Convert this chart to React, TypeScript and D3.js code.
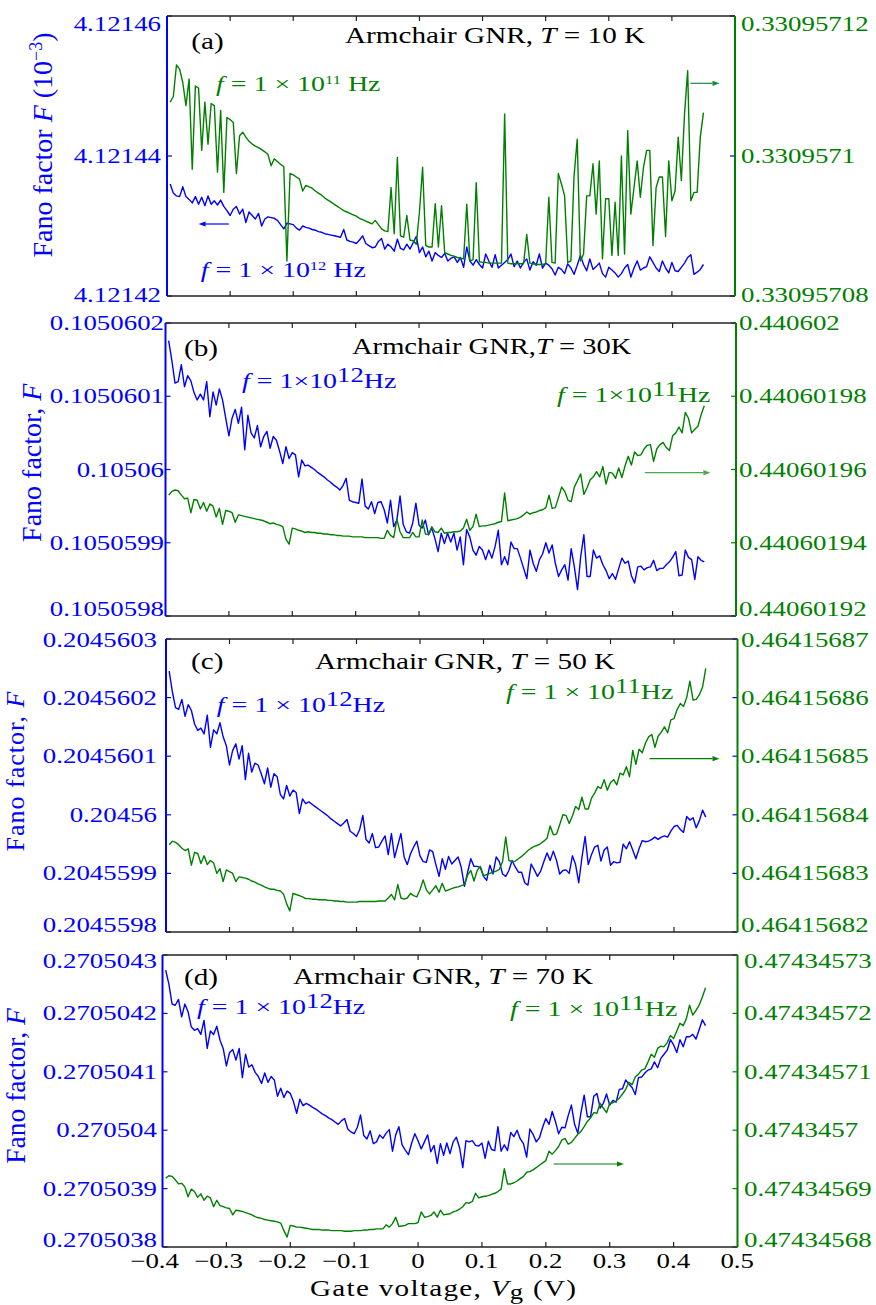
import React from 'react';
import * as d3 from 'd3';

// Gate voltage Vg (V)
const gateVoltage = [
  -0.395,-0.39,-0.385,-0.38,-0.375,-0.37,-0.365,-0.36,-0.355,-0.35,
  -0.345,-0.34,-0.335,-0.33,-0.325,-0.32,-0.315,-0.31,-0.305,-0.3,
  -0.295,-0.29,-0.285,-0.28,-0.275,-0.27,-0.265,-0.26,-0.255,-0.25,
  -0.245,-0.24,-0.235,-0.23,-0.225,-0.22,-0.215,-0.21,-0.205,-0.2,
  -0.195,-0.19,-0.185,-0.18,-0.175,-0.17,-0.165,-0.16,-0.155,-0.15,
  -0.145,-0.14,-0.135,-0.13,-0.125,-0.12,-0.115,-0.11,-0.105,-0.1,
  -0.095,-0.09,-0.085,-0.08,-0.075,-0.07,-0.065,-0.06,-0.055,-0.05,
  -0.045,-0.04,-0.035,-0.03,-0.025,-0.02,-0.015,-0.01,-0.005,0,
  0.005,0.01,0.015,0.02,0.025,0.03,0.035,0.04,0.045,0.05,
  0.055,0.06,0.065,0.07,0.075,0.08,0.085,0.09,0.095,0.1,
  0.105,0.11,0.115,0.12,0.125,0.13,0.135,0.14,0.145,0.15,
  0.155,0.16,0.165,0.17,0.175,0.18,0.185,0.19,0.195,0.2,
  0.205,0.21,0.215,0.22,0.225,0.23,0.235,0.24,0.245,0.25,
  0.255,0.26,0.265,0.27,0.275,0.28,0.285,0.29,0.295,0.3,
  0.305,0.31,0.315,0.32,0.325,0.33,0.335,0.34,0.345,0.35,
  0.355,0.36,0.365,0.37,0.375,0.38,0.385,0.39,0.395,0.4,
  0.405,0.41,0.415,0.42,0.425,0.43,0.435,0.44,0.445,0.45
];

// (a) T = 10 K, f = 1e12 Hz (left axis, units 1e-3)
const fanoA12 = [
  4.121436,4.1214347,4.1214343,4.1214342,4.1214356,4.1214342,4.1214338,4.1214333,4.1214342,4.1214331,
  4.1214341,4.1214329,4.1214343,4.1214331,4.1214336,4.121433,4.1214337,4.1214328,4.1214322,4.1214315,
  4.1214324,4.1214328,4.1214317,4.1214324,4.1214305,4.121432,4.1214315,4.121431,4.1214318,4.12143,
  4.121431,4.1214313,4.1214312,4.1214311,4.1214308,4.1214302,4.1214296,4.1214304,4.1214303,4.1214302,
  4.1214297,4.1214294,4.12143,4.1214298,4.1214297,4.1214295,4.1214294,4.1214292,4.1214291,4.1214289,
  4.1214288,4.1214287,4.1214286,4.1214285,4.1214284,4.1214295,4.121428,4.1214278,4.1214277,4.1214275,
  4.121428,4.1214286,4.1214275,4.1214272,4.1214269,4.121427,4.1214278,4.1214282,4.1214267,4.1214274,
  4.121427,4.1214264,4.1214281,4.1214268,4.1214266,4.1214274,4.1214267,4.1214276,4.1214285,4.1214262,
  4.121427,4.1214256,4.1214264,4.121425,4.1214262,4.1214258,4.1214255,4.1214261,4.121425,4.1214254,
  4.1214256,4.1214248,4.1214255,4.1214241,4.121427,4.121425,4.1214244,4.1214252,4.1214245,4.121424,
  4.121426,4.121425,4.1214241,4.1214259,4.121424,4.1214244,4.1214248,4.1214252,4.121426,4.1214242,
  4.121425,4.121424,4.1214248,4.1214253,4.1214237,4.1214249,4.1214244,4.121426,4.121424,4.1214247,
  4.1214244,4.1214239,4.121423,4.1214241,4.1214238,4.1214232,4.1214246,4.121424,4.1214231,4.1214244,
  4.1214258,4.1214245,4.1214236,4.1214253,4.1214238,4.1214242,4.1214247,4.1214232,4.1214227,4.1214241,
  4.1214237,4.1214233,4.1214227,4.1214232,4.121424,4.1214245,4.1214227,4.121424,4.121425,4.1214237,
  4.121424,4.1214242,4.1214256,4.1214248,4.121424,4.1214235,4.121425,4.121424,4.1214233,4.1214248,
  4.1214236,4.1214235,4.1214241,4.1214247,4.1214255,4.1214259,4.1214231,4.1214234,4.1214238,4.1214245
];

// (a) T = 10 K, f = 1e11 Hz (right axis)
const fanoA11 = [
  0.3309571077,0.3309571085,0.330957113,0.3309571124,0.3309571105,0.3309571072,0.330957111,0.3309570981,0.33095711,0.3309571097,
  0.3309571008,0.3309571077,0.3309571017,0.3309571075,0.3309571072,0.3309570977,0.3309571065,0.3309570948,0.3309571055,0.3309571052,
  0.3309571048,0.3309570975,0.3309571029,0.3309571034,0.3309571027,0.3309571021,0.3309571017,0.3309571014,0.3309571012,0.3309571009,
  0.3309571006,0.3309571002,0.3309570986,0.3309570996,0.3309570992,0.3309570988,0.3309570985,0.330957085,0.3309570975,0.3309570973,
  0.330957097,0.3309570967,0.330957095,0.3309570958,0.3309570956,0.3309570954,0.330957095,0.3309570947,0.3309570944,0.330957094,
  0.3309570937,0.3309570934,0.3309570931,0.3309570928,0.3309570925,0.3309570922,0.330957092,0.3309570918,0.3309570916,0.3309570914,
  0.3309570911,0.3309570909,0.3309570907,0.3309570905,0.3309570903,0.3309570908,0.3309570902,0.3309570896,0.3309570893,0.3309570892,
  0.3309570955,0.3309570889,0.3309570998,0.3309570886,0.3309570884,0.3309570915,0.330957088,0.3309570879,0.3309570874,0.330957092,
  0.3309570984,0.3309570872,0.330957087,0.330957087,0.3309570932,0.330957087,0.3309570929,0.3309570862,0.330957086,0.3309570858,
  0.3309570857,0.3309570855,0.3309570854,0.3309570853,0.3309570931,0.330957085,0.3309570852,0.3309570962,0.3309570849,0.3309570848,
  0.3309570848,0.3309570847,0.3309570847,0.3309570847,0.3309570847,0.3309570847,0.330957106,0.3309570847,0.3309570846,0.3309570846,
  0.3309570846,0.3309570846,0.3309570846,0.3309570888,0.3309570847,0.3309570846,0.3309570845,0.3309570845,0.3309570845,0.3309570846,
  0.3309570941,0.3309570848,0.3309570847,0.3309570975,0.330957096,0.3309570943,0.3309570848,0.330957085,0.3309570972,0.3309571024,
  0.330957085,0.330957086,0.3309570943,0.3309570943,0.3309570989,0.3309570917,0.3309570993,0.3309570853,0.3309570939,0.3309570939,
  0.3309570858,0.3309570934,0.3309570858,0.3309571,0.330957086,0.3309571036,0.3309570917,0.3309570955,0.3309570993,0.3309570941,
  0.3309570984,0.3309571008,0.3309571008,0.3309570872,0.3309570955,0.330957097,0.330957097,0.3309570885,0.3309570993,0.3309570936,
  0.330957095,0.3309571027,0.3309570965,0.330957106,0.3309571122,0.3309570936,0.3309570948,0.3309570948,0.3309571027,0.3309571062
];

// (b) T = 30 K, f = 1e12 Hz (left axis)
const fanoB12 = [
  0.105060176,0.105060149,0.105060118,0.10506012,0.105060143,0.105060113,0.105060128,0.105060121,0.105060105,0.105060095,
  0.105060103,0.105060095,0.10506012,0.105060072,0.105060106,0.105060088,0.10506011,0.105060095,0.10506007,0.105060046,
  0.10506007,0.105060082,0.105060063,0.105060085,0.105060027,0.105060074,0.10506005,0.105060043,0.10506006,0.105060031,
  0.105060045,0.105060052,0.105060029,0.105060045,0.10506004,0.105060025,0.105060008,0.105060031,0.105060015,0.105060023,
  0.10506002,0.10505999,0.105060013,0.105060005,0.105060006,0.105060003,0.10506,0.105059996,0.105059993,0.10505999,
  0.105059986,0.105059983,0.105059979,0.105059976,0.105059972,0.105059978,0.105059988,0.105059958,0.105059956,0.105059955,
  0.105059954,0.105059987,0.10505995,0.105059946,0.105059956,0.10505994,0.105059955,0.105059956,0.105059945,0.105059927,
  0.105059958,0.105059922,0.105059931,0.105059964,0.105059925,0.105059915,0.105059913,0.105059927,0.105059954,0.105059924,
  0.10505992,0.105059931,0.105059911,0.10505992,0.105059906,0.105059888,0.105059913,0.105059899,0.105059913,0.105059901,
  0.105059913,0.10505989,0.105059908,0.10505987,0.105059918,0.105059908,0.10505989,0.105059883,0.105059895,0.10505989,
  0.105059877,0.10505989,0.105059879,0.105059895,0.105059917,0.10505987,0.105059881,0.10505987,0.105059901,0.105059892,
  0.105059892,0.105059879,0.105059865,0.105059851,0.10505989,0.105059872,0.105059861,0.105059877,0.105059885,0.1050599,
  0.105059886,0.105059897,0.105059872,0.105059854,0.105059863,0.10505987,0.105059849,0.105059892,0.105059867,0.105059836,
  0.105059881,0.105059911,0.105059854,0.105059854,0.10505989,0.105059879,0.105059882,0.10505987,0.105059862,0.105059851,
  0.105059858,0.10505985,0.105059865,0.105059879,0.105059872,0.105059875,0.105059855,0.105059845,0.105059867,0.105059868,
  0.105059863,0.105059866,0.105059867,0.105059876,0.105059862,0.105059865,0.105059865,0.10505987,0.105059874,0.10505988,
  0.105059888,0.105059855,0.105059856,0.10505989,0.10505988,0.105059877,0.10505985,0.105059881,0.105059876,0.105059874
];

// (b) T = 30 K, f = 1e11 Hz (right axis)
const fanoB11 = [
  0.440601953,0.440601954,0.4406019544,0.4406019542,0.440601953,0.440601952,0.4406019522,0.4406019482,0.4406019518,0.4406019516,
  0.4406019492,0.440601951,0.4406019486,0.4406019506,0.44060195,0.440601947,0.4406019494,0.440601945,0.4406019488,0.4406019486,
  0.4406019482,0.4406019456,0.4406019476,0.4406019474,0.4406019472,0.440601947,0.4406019468,0.4406019466,0.4406019464,0.4406019462,
  0.440601946,0.4406019456,0.4406019452,0.4406019454,0.440601945,0.4406019448,0.4406019444,0.440601941,0.4406019396,0.440601944,
  0.4406019438,0.4406019434,0.4406019432,0.4406019428,0.440601943,0.4406019428,0.4406019428,0.4406019426,0.4406019426,0.4406019424,
  0.4406019424,0.4406019422,0.4406019422,0.440601942,0.440601942,0.4406019418,0.4406019418,0.4406019418,0.4406019416,0.4406019416,
  0.4406019416,0.4406019416,0.4406019414,0.4406019414,0.4406019414,0.4406019414,0.4406019414,0.4406019412,0.4406019412,0.4406019434,
  0.440601942,0.4406019414,0.4406019464,0.440601943,0.4406019414,0.4406019414,0.4406019414,0.4406019428,0.4406019416,0.4406019416,
  0.4406019462,0.4406019424,0.4406019422,0.4406019444,0.440601943,0.4406019428,0.440601944,0.4406019426,0.4406019428,0.4406019428,
  0.440601943,0.440601943,0.4406019432,0.440601944,0.4406019464,0.4406019434,0.4406019444,0.4406019478,0.4406019444,0.4406019446,
  0.4406019446,0.4406019448,0.440601945,0.4406019452,0.4406019456,0.4406019458,0.4406019536,0.440601946,0.4406019462,0.4406019464,
  0.4406019466,0.440601947,0.4406019476,0.4406019484,0.4406019478,0.4406019482,0.4406019484,0.4406019488,0.440601949,0.4406019496,
  0.440601953,0.4406019494,0.4406019496,0.4406019524,0.4406019552,0.440601954,0.4406019516,0.4406019512,0.4406019552,0.440601957,
  0.4406019588,0.4406019532,0.440601955,0.4406019572,0.440601958,0.4406019594,0.440601958,0.4406019608,0.440601956,0.4406019592,
  0.440601959,0.4406019576,0.4406019604,0.4406019578,0.440601961,0.4406019636,0.4406019612,0.4406019648,0.4406019638,0.440601964,
  0.4406019656,0.4406019666,0.4406019668,0.4406019622,0.4406019656,0.4406019668,0.4406019674,0.440601966,0.4406019652,0.4406019692,
  0.44060197,0.4406019716,0.44060197,0.4406019756,0.440601974,0.44060197,0.440601971,0.4406019718,0.440601975,0.4406019774
];

// (c) T = 50 K, f = 1e12 Hz (left axis)
const fanoC12 = [
  0.204560245,0.20456021,0.204560183,0.20456018,0.204560197,0.204560168,0.204560188,0.204560178,0.204560155,0.204560144,
  0.204560148,0.204560138,0.20456017,0.204560115,0.204560145,0.204560138,0.204560157,0.204560133,0.204560118,0.204560085,
  0.20456011,0.204560121,0.204560095,0.204560118,0.20456006,0.204560105,0.204560073,0.204560088,0.204560085,0.20456007,
  0.204560053,0.20456008,0.204560047,0.20456007,0.204560065,0.204560035,0.204560027,0.20456005,0.204560032,0.204560042,
  0.204560038,0.204560002,0.204560027,0.204560019,0.204560022,0.204560018,0.204560014,0.20456001,0.204560006,0.204560002,
  0.204559998,0.204559993,0.204559989,0.204559985,0.204559981,0.204559986,0.204559992,0.204559972,0.204559968,0.204559963,
  0.204559975,0.204559999,0.204559958,0.204559952,0.204559968,0.204559944,0.204559945,0.204559955,0.204559964,0.204559932,
  0.204559968,0.204559927,0.204559948,0.204559968,0.204559928,0.204559915,0.204559933,0.204559945,0.204559955,0.20455993,
  0.20455992,0.204559919,0.20455994,0.204559937,0.204559915,0.204559895,0.204559925,0.204559907,0.204559929,0.204559916,
  0.204559922,0.204559928,0.20455991,0.204559878,0.204559902,0.204559925,0.204559912,0.204559912,0.20455991,0.204559895,
  0.204559888,0.204559914,0.204559899,0.204559928,0.20455992,0.204559899,0.204559895,0.204559905,0.204559922,0.204559911,
  0.204559902,0.204559902,0.204559884,0.20455988,0.204559916,0.204559906,0.204559895,0.204559904,0.20455992,0.204559935,
  0.204559922,0.204559938,0.204559922,0.204559899,0.204559905,0.204559906,0.2045599,0.20455993,0.204559915,0.204559884,
  0.204559927,0.204559963,0.204559915,0.204559932,0.204559945,0.204559948,0.204559921,0.20455994,0.204559945,0.204559914,
  0.20455992,0.204559918,0.204559919,0.20455995,0.204559942,0.204559954,0.20455994,0.204559925,0.204559942,0.204559956,
  0.204559954,0.204559955,0.204559958,0.204559962,0.204559958,0.204559962,0.204559964,0.204559962,0.204559972,0.20455998,
  0.204559982,0.204559975,0.20455997,0.204559997,0.204559991,0.204559995,0.204559978,0.20455999,0.204560008,0.204559996
];

// (c) T = 50 K, f = 1e11 Hz (right axis)
const fanoC11 = [
  0.4641568349,0.4641568355,0.4641568353,0.4641568349,0.4641568343,0.4641568339,0.4641568342,0.4641568314,0.4641568336,0.4641568334,
  0.4641568317,0.464156833,0.4641568315,0.4641568322,0.4641568318,0.46415683,0.4641568308,0.4641568286,0.4641568306,0.4641568303,
  0.46415683,0.4641568286,0.4641568294,0.4641568293,0.4641568292,0.464156829,0.4641568287,0.4641568285,0.4641568282,0.464156828,
  0.4641568277,0.4641568275,0.4641568273,0.4641568273,0.4641568271,0.464156827,0.4641568265,0.4641568248,0.4641568236,0.4641568266,
  0.4641568264,0.4641568262,0.464156826,0.4641568257,0.4641568257,0.4641568256,0.4641568256,0.4641568255,0.4641568255,0.4641568255,
  0.4641568254,0.4641568254,0.4641568253,0.4641568253,0.4641568252,0.4641568252,0.4641568251,0.4641568251,0.4641568251,0.4641568251,
  0.4641568252,0.4641568252,0.4641568252,0.4641568252,0.4641568252,0.4641568252,0.4641568253,0.4641568253,0.4641568253,0.4641568258,
  0.4641568264,0.4641568255,0.4641568281,0.4641568258,0.4641568256,0.4641568258,0.4641568266,0.4641568262,0.464156826,0.4641568272,
  0.4641568289,0.4641568272,0.4641568265,0.4641568272,0.4641568279,0.4641568268,0.4641568283,0.464156827,0.4641568272,0.4641568274,
  0.4641568276,0.4641568277,0.4641568279,0.4641568281,0.4641568297,0.4641568305,0.4641568287,0.4641568305,0.4641568312,0.4641568296,
  0.4641568298,0.46415683,0.4641568302,0.4641568304,0.4641568307,0.464156832,0.4641568362,0.4641568322,0.464156832,0.4641568321,
  0.4641568325,0.4641568329,0.4641568334,0.4641568339,0.4641568343,0.4641568346,0.4641568348,0.4641568351,0.4641568355,0.464156836,
  0.4641568381,0.4641568366,0.4641568367,0.4641568383,0.46415684,0.4641568399,0.4641568385,0.4641568398,0.4641568414,0.4641568409,
  0.464156843,0.464156841,0.464156841,0.4641568428,0.4641568437,0.4641568448,0.4641568445,0.464156846,0.4641568442,0.4641568455,
  0.464156846,0.4641568451,0.4641568471,0.4641568468,0.4641568482,0.4641568465,0.464156851,0.4641568486,0.4641568512,0.4641568506,
  0.4641568522,0.4641568533,0.4641568537,0.4641568515,0.4641568534,0.4641568541,0.464156855,0.464156854,0.4641568562,0.4641568564,
  0.464156858,0.464156859,0.4641568585,0.46415686,0.4641568628,0.4641568596,0.4641568597,0.4641568605,0.4641568618,0.464156865
];

// (d) T = 70 K, f = 1e12 Hz (left axis)
const fanoD12 = [
  0.270504274,0.27050425,0.270504216,0.270504214,0.270504224,0.270504194,0.270504216,0.270504203,0.270504177,0.270504171,
  0.270504174,0.270504164,0.270504188,0.27050414,0.27050417,0.270504164,0.270504178,0.270504154,0.27050414,0.27050411,
  0.270504133,0.270504138,0.27050412,0.27050414,0.27050409,0.27050413,0.270504108,0.270504112,0.270504099,0.270504092,
  0.27050408,0.270504098,0.270504082,0.270504092,0.270504086,0.270504058,0.270504072,0.270504056,0.270504067,0.270504063,
  0.270504049,0.270504029,0.270504053,0.270504042,0.270504046,0.270504043,0.270504039,0.270504036,0.270504032,0.270504028,
  0.270504025,0.270504021,0.270504018,0.270504014,0.27050401,0.270504016,0.27050402,0.270504002,0.270503997,0.270503994,
  0.270504005,0.270504026,0.270503991,0.270503985,0.270503999,0.270503977,0.27050398,0.270503992,0.270503986,0.270503995,
  0.270504001,0.270503964,0.270503992,0.270504006,0.270503975,0.270503966,0.270503958,0.270503978,0.270503994,0.270503982,
  0.270503968,0.27050398,0.270503992,0.270503963,0.270503974,0.270503943,0.270503977,0.270503957,0.270503978,0.27050396,
  0.27050398,0.270503988,0.27050397,0.270503936,0.270503982,0.27050398,0.270503982,0.270503974,0.270503973,0.270503978,
  0.270503952,0.270503981,0.270503967,0.270503965,0.270504006,0.270503964,0.270503975,0.270503965,0.270503996,0.270503989,
  0.2705040,0.270503985,0.270503977,0.270503954,0.270504002,0.270503993,0.27050398,0.270503987,0.270504005,0.27050402,
  0.27050401,0.270504032,0.270504015,0.270503994,0.270504005,0.270504004,0.270504025,0.270504043,0.27050401,0.270503995,
  0.27050403,0.27050406,0.270504023,0.270504023,0.270504058,0.270504063,0.270504038,0.270504046,0.270504062,0.270504043,
  0.270504051,0.270504048,0.27050407,0.270504071,0.270504086,0.270504079,0.270504073,0.270504061,0.27050409,0.270504091,
  0.270504098,0.270504103,0.270504105,0.270504117,0.270504107,0.270504123,0.27050413,0.270504137,0.270504155,0.270504146,
  0.270504133,0.270504155,0.270504143,0.27050416,0.27050416,0.270504164,0.270504156,0.270504172,0.270504189,0.270504179
];

// (d) T = 70 K, f = 1e11 Hz (right axis)
const fanoD11 = [
  0.4743456918,0.4743456922,0.4743456921,0.4743456915,0.4743456908,0.4743456909,0.4743456903,0.4743456886,0.4743456899,0.4743456895,
  0.4743456885,0.4743456891,0.474345688,0.4743456887,0.4743456884,0.4743456869,0.474345688,0.4743456871,0.4743456869,0.4743456867,
  0.4743456866,0.4743456855,0.4743456863,0.4743456862,0.4743456861,0.4743456859,0.4743456857,0.4743456855,0.4743456852,0.474345685,
  0.4743456849,0.4743456847,0.4743456846,0.4743456845,0.4743456844,0.4743456843,0.4743456841,0.4743456828,0.4743456817,0.4743456837,
  0.4743456836,0.4743456834,0.4743456834,0.4743456833,0.4743456832,0.4743456831,0.474345683,0.474345683,0.474345683,0.4743456829,
  0.4743456829,0.4743456829,0.4743456828,0.4743456828,0.4743456828,0.4743456828,0.4743456827,0.4743456827,0.4743456827,0.4743456828,
  0.4743456828,0.4743456828,0.4743456829,0.4743456829,0.474345683,0.474345683,0.4743456831,0.4743456831,0.4743456831,0.4743456838,
  0.4743456834,0.474345684,0.4743456851,0.4743456835,0.4743456836,0.4743456837,0.474345684,0.474345684,0.474345684,0.4743456842,
  0.474345686,0.4743456851,0.4743456852,0.4743456854,0.474345686,0.4743456851,0.4743456863,0.4743456855,0.4743456856,0.4743456857,
  0.474345686,0.4743456862,0.4743456865,0.4743456869,0.4743456876,0.4743456875,0.4743456878,0.4743456892,0.4743456884,0.4743456886,
  0.4743456887,0.4743456888,0.474345689,0.4743456892,0.4743456895,0.4743456899,0.4743456934,0.4743456908,0.4743456908,0.474345691,
  0.4743456913,0.4743456917,0.4743456921,0.4743456928,0.4743456929,0.4743456932,0.4743456936,0.474345694,0.4743456944,0.4743456948,
  0.4743456964,0.4743456959,0.4743456965,0.4743456972,0.4743456983,0.4743456986,0.4743456976,0.4743456979,0.4743456986,0.4743456993,
  0.4743456998,0.4743457006,0.4743457015,0.4743457021,0.474345703,0.4743457029,0.4743457046,0.4743457038,0.474345703,0.4743457046,
  0.4743457047,0.474345705,0.4743457055,0.4743457062,0.474345707,0.4743457082,0.4743457078,0.4743457091,0.4743457096,0.4743457103,
  0.4743457105,0.4743457117,0.474345713,0.4743457125,0.474345714,0.4743457144,0.4743457143,0.474345715,0.4743457162,0.4743457157,
  0.474345717,0.4743457183,0.4743457179,0.4743457191,0.4743457214,0.4743457197,0.4743457205,0.4743457214,0.4743457228,0.4743457244
];

// Axis ticks and labels
const xTicks = [-0.4, -0.3, -0.2, -0.1, 0, 0.1, 0.2, 0.3, 0.4, 0.5];
const xTickLabels = ['−0.4', '−0.3', '−0.2', '−0.1', '0', '0.1', '0.2', '0.3', '0.4', '0.5'];

const leftTicksA = [4.12142, 4.12144, 4.12146];
const leftLabelsA = ['4.12142', '4.12144', '4.12146'];
const rightTicksA = [0.33095708, 0.3309571, 0.33095712];
const rightLabelsA = ['0.33095708', '0.3309571', '0.33095712'];

const leftTicksB = [0.1050598, 0.1050599, 0.10506, 0.1050601, 0.1050602];
const leftLabelsB = ['0.1050598', '0.1050599', '0.10506', '0.1050601', '0.1050602'];
const rightTicksB = [0.44060192, 0.44060194, 0.44060196, 0.44060198, 0.440602];
const rightLabelsB = ['0.44060192', '0.44060194', '0.44060196', '0.44060198', '0.440602'];

const leftTicksC = [0.2045598, 0.2045599, 0.20456, 0.2045601, 0.2045602, 0.2045603];
const leftLabelsC = ['0.2045598', '0.2045599', '0.20456', '0.2045601', '0.2045602', '0.2045603'];
const rightTicksC = [0.46415682, 0.46415683, 0.46415684, 0.46415685, 0.46415686, 0.46415687];
const rightLabelsC = ['0.46415682', '0.46415683', '0.46415684', '0.46415685', '0.46415686', '0.46415687'];

const leftTicksD = [0.2705038, 0.2705039, 0.270504, 0.2705041, 0.2705042, 0.2705043];
const leftLabelsD = ['0.2705038', '0.2705039', '0.270504', '0.2705041', '0.2705042', '0.2705043'];
const rightTicksD = [0.47434568, 0.47434569, 0.4743457, 0.47434571, 0.47434572, 0.47434573];
const rightLabelsD = ['0.47434568', '0.47434569', '0.4743457', '0.47434571', '0.47434572', '0.47434573'];

const BLUE = '#0000ff';
const GREEN = '#008000';
const FONT = "'Liberation Serif', 'Times New Roman', serif";
const KX = 1.27;

type PanelCfg = {
  id: string; x0: number; x1: number; y0: number; y1: number;
  left: number[]; right: number[];
  lt: number[]; ltl: string[]; rt: number[]; rtl: string[];
  lLabelRight: number; rLabelLeft: number; topShift: number; botShift: number;
  rTickColor: string; showX: boolean;
};

const panels: PanelCfg[] = [
  { id: 'a', x0: 167, x1: 735, y0: 16, y1: 296, left: fanoA12, right: fanoA11,
    lt: leftTicksA, ltl: leftLabelsA, rt: rightTicksA, rtl: rightLabelsA,
    lLabelRight: 161, rLabelLeft: 741, topShift: 8, botShift: -1, rTickColor: BLUE, showX: false },
  { id: 'b', x0: 165.5, x1: 736, y0: 323, y1: 616, left: fanoB12, right: fanoB11,
    lt: leftTicksB, ltl: leftLabelsB, rt: rightTicksB, rtl: rightLabelsB,
    lLabelRight: 164, rLabelLeft: 739, topShift: 0, botShift: -7, rTickColor: GREEN, showX: false },
  { id: 'c', x0: 166, x1: 737.5, y0: 639, y1: 932, left: fanoC12, right: fanoC11,
    lt: leftTicksC, ltl: leftLabelsC, rt: rightTicksC, rtl: rightLabelsC,
    lLabelRight: 157, rLabelLeft: 741, topShift: 1, botShift: -7.5, rTickColor: BLUE, showX: false },
  { id: 'd', x0: 162.5, x1: 737.5, y0: 955, y1: 1247, left: fanoD12, right: fanoD11,
    lt: leftTicksD, ltl: leftLabelsD, rt: rightTicksD, rtl: rightLabelsD,
    lLabelRight: 157, rLabelLeft: 744, topShift: 5.5, botShift: -7, rTickColor: GREEN, showX: true },
];

function T(props: { x: number; y: number; size?: number; k?: number; anchor?: string; fill?: string; rotate?: boolean; ls?: number; children: React.ReactNode }) {
  const { x, y, size = 21, k = KX, anchor = 'start', fill = '#000', rotate = false, ls = 0, children } = props;
  const tr = rotate ? `translate(${x},${y}) rotate(-90)` : `translate(${x},${y}) scale(${k},1)`;
  return (
    <text transform={tr} fontSize={size} textAnchor={anchor as any} fill={fill} fontFamily={FONT}
      style={{ whiteSpace: 'pre', letterSpacing: ls ? `${ls}px` : undefined }}>
      {children}
    </text>
  );
}

function Arrow({ x1, x2, y, color }: { x1: number; x2: number; y: number; color: string }) {
  const dir = x2 > x1 ? 1 : -1;
  const hl = 7, hw = 2.6;
  return (
    <g>
      <line x1={x1} y1={y} x2={x2 - dir * hl} y2={y} stroke={color} strokeWidth={1.2} />
      <path d={`M${x2},${y}L${x2 - dir * hl},${y - hw}L${x2 - dir * hl},${y + hw}Z`} fill={color} />
    </g>
  );
}

function Panel({ p }: { p: PanelCfg }) {
  const x = d3.scaleLinear().domain([-0.4, 0.5]).range([p.x0, p.x1]);
  const yl = d3.scaleLinear().domain([p.lt[0], p.lt[p.lt.length - 1]]).range([p.y1, p.y0]);
  const yr = d3.scaleLinear().domain([p.rt[0], p.rt[p.rt.length - 1]]).range([p.y1, p.y0]);
  const lineL = d3.line<number>().x((_, i) => x(gateVoltage[i])).y(d => yl(d));
  const lineR = d3.line<number>().x((_, i) => x(gateVoltage[i])).y(d => yr(d));
  const tl = 5;
  const innerX = xTicks.slice(1, -1);
  return (
    <g>
      <path d={lineL(p.left) || ''} fill="none" stroke={BLUE} strokeWidth={1.4} strokeLinejoin="round" />
      <path d={lineR(p.right) || ''} fill="none" stroke={GREEN} strokeWidth={1.4} strokeLinejoin="round" />
      {innerX.map(t => (
        <g key={`xt${t}`}>
          <line x1={x(t)} x2={x(t)} y1={p.y1} y2={p.y1 - tl} stroke="#222" strokeWidth={1.2} />
          <line x1={x(t)} x2={x(t)} y1={p.y0} y2={p.y0 + tl} stroke="#222" strokeWidth={1.2} />
        </g>
      ))}
      {p.lt.map(t => (
        <line key={`lt${t}`} x1={p.x0} x2={p.x0 + tl} y1={yl(t)} y2={yl(t)} stroke={BLUE} strokeWidth={1.2} />
      ))}
      {p.rt.map(t => (
        <line key={`rt${t}`} x1={p.x1} x2={p.x1 - tl} y1={yr(t)} y2={yr(t)} stroke={p.rTickColor} strokeWidth={1.2} />
      ))}
      <line x1={p.x0} x2={p.x1} y1={p.y0} y2={p.y0} stroke="#222" strokeWidth={1.6} />
      <line x1={p.x0} x2={p.x1} y1={p.y1} y2={p.y1} stroke="#222" strokeWidth={1.6} />
      <line x1={p.x0} x2={p.x0} y1={p.y0} y2={p.y1} stroke={BLUE} strokeWidth={2} />
      <line x1={p.x1} x2={p.x1} y1={p.y0} y2={p.y1} stroke={GREEN} strokeWidth={2} />
      {p.lt.map((t, i) => {
        let cy = yl(t);
        if (i === p.lt.length - 1) cy += p.topShift;
        if (i === 0) cy += p.botShift;
        return <T key={`ll${i}`} x={p.lLabelRight} y={cy + 7} anchor="end" fill={BLUE} k={1.28}>{p.ltl[i]}</T>;
      })}
      {p.rt.map((t, i) => {
        let cy = yr(t);
        if (i === p.rt.length - 1) cy += p.topShift;
        if (i === 0) cy += p.botShift;
        return <T key={`rl${i}`} x={p.rLabelLeft} y={cy + 7} anchor="start" fill={GREEN} k={1.28}>{p.rtl[i]}</T>;
      })}
      {p.showX && xTicks.map((t, i) => {
        const lab = xTickLabels[i];
        const num = lab.replace('−', '');
        return num.length === 1
          ? <T key={`xl${i}`} x={x(t)} y={1268} anchor="middle" k={1.28}>{lab}</T>
          : <T key={`xl${i}`} x={x(t) + 16.5} y={1268} anchor="end" k={1.28}>{lab}</T>;
      })}
    </g>
  );
}

function Ann({ x, y, color, sup, small, spaced, size = 22 }: { x: number; y: number; color: string; sup: string; small: boolean; spaced: boolean; size?: number }) {
  const mid = spaced ? ' = 1 × 10' : ' = 1×10';
  return (
    <T x={x} y={y} size={size} fill={color}>
      <tspan fontStyle="italic">f</tspan>
      <tspan>{mid}</tspan>
      {small
        ? <tspan dy={-7} fontSize={13}>{sup}</tspan>
        : <tspan dy={-6} fontSize={21}>{sup}</tspan>}
      <tspan dy={small ? 7 : 6}>{small ? ' Hz' : 'Hz'}</tspan>
    </T>
  );
}

export default function App() {
  return (
    <svg width={876} height={1305} style={{ position: 'absolute', left: 0, top: 0 }}>
      <rect x={0} y={0} width={876} height={1305} fill="#fff" />
      {panels.map(p => <Panel key={p.id} p={p} />)}

      {/* panel (a) texts */}
      <T x={191.3} y={49} size={23}>(a)</T>
      <T x={345} y={43} size={23}><tspan>{'Armchair GNR, '}</tspan><tspan fontStyle="italic">T</tspan><tspan>{' = 10 K'}</tspan></T>
      <Ann x={216} y={90.7} color={GREEN} sup="11" small={true} spaced={true} />
      <Ann x={200.8} y={277.3} color={BLUE} sup="12" small={true} spaced={true} />
      <Arrow x1={228.8} x2={198.6} y={224} color={BLUE} />
      <Arrow x1={690.4} x2={719.5} y={83.3} color={'#1a8a3a'} />
      <T x={51.5} y={145} size={28} rotate={true} anchor="middle" fill={BLUE}>
        <tspan>{'Fano factor '}</tspan><tspan fontStyle="italic">F</tspan><tspan>{' (10'}</tspan>
        <tspan dy={-10} fontSize={18}>−3</tspan><tspan dy={10}>)</tspan>
      </T>

      {/* panel (b) texts */}
      <T x={184} y={356} size={23}>(b)</T>
      <T x={352} y={354} size={22.5}><tspan>{'Armchair GNR,'}</tspan><tspan fontStyle="italic">T</tspan><tspan>{' = 30K'}</tspan></T>
      <Ann x={242} y={388.3} color={BLUE} sup="12" small={false} spaced={false} />
      <Ann x={557} y={401.7} color={GREEN} sup="11" small={false} spaced={false} />
      <Arrow x1={644.8} x2={710.4} y={472.7} color={'#4aa84a'} />
      <T x={40.7} y={462.8} size={28} rotate={true} anchor="middle" fill={BLUE}>
        <tspan>{'Fano factor, '}</tspan><tspan fontStyle="italic">F</tspan>
      </T>

      {/* panel (c) texts */}
      <T x={191} y={669} size={23}>(c)</T>
      <T x={315} y={668.5} size={23}><tspan>{'Armchair GNR, '}</tspan><tspan fontStyle="italic">T</tspan><tspan>{' = 50 K'}</tspan></T>
      <Ann x={216.8} y={712} color={BLUE} sup="12" small={false} spaced={true} />
      <Ann x={506} y={698.7} color={GREEN} sup="11" small={false} spaced={true} />
      <Arrow x1={649.5} x2={719.5} y={758.7} color={GREEN} />
      <T x={23.5} y={771} size={26} ls={1} rotate={true} anchor="middle" fill={BLUE}>
        <tspan>{'Fano factor, '}</tspan><tspan fontStyle="italic">F</tspan>
      </T>

      {/* panel (d) texts */}
      <T x={184} y={985} size={23}>(d)</T>
      <T x={293} y={984} size={23}><tspan>{'Armchair GNR, '}</tspan><tspan fontStyle="italic">T</tspan><tspan>{' = 70 K'}</tspan></T>
      <Ann x={197} y={1013.7} color={BLUE} sup="12" small={false} spaced={true} />
      <Ann x={510} y={1016} color={GREEN} sup="11" small={false} spaced={true} />
      <Arrow x1={553.5} x2={624} y={1164} color={GREEN} />
      <T x={25} y={1086} size={27.5} rotate={true} anchor="middle" fill={BLUE}>
        <tspan>{'Fano factor, '}</tspan><tspan fontStyle="italic">F</tspan>
      </T>

      {/* x axis label */}
      <T x={310} y={1295.5} size={23} ls={1}>
        <tspan>{'Gate voltage, '}</tspan><tspan fontStyle="italic">V</tspan>
        <tspan dy={3} fontSize={21}>g</tspan><tspan dy={-3}>{' (V)'}</tspan>
      </T>
    </svg>
  );
}
